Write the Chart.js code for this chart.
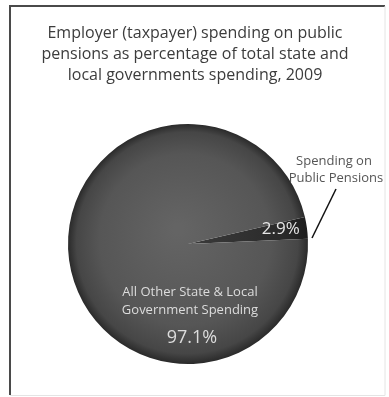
<!DOCTYPE html>
<html>
<head>
<meta charset="utf-8">
<script src="https://cdn.jsdelivr.net/npm/chart.js@4.4.0/dist/chart.umd.min.js"></script>
<style>
  html, body { margin: 0; padding: 0; background: #fff; }
  #wrap { width: 389px; height: 397px; }
</style>
</head>
<body>
<div id="wrap"><canvas id="pensionChart" width="389" height="397"></canvas></div>
<script>
// Spending shares, 2009
const categories = ["Spending on Public Pensions", "All Other State & Local Government Spending"];
const shares = [2.9, 97.1];
const shareLabels = ["2.9%", "97.1%"];
const titleLines = [
    "Employer (taxpayer) spending on public",
    "pensions as percentage of total state and",
    "local governments spending, 2009"
];

const canvas = document.getElementById("pensionChart");
const ctx = canvas.getContext("2d");

// Shaded fill for each slice, darker toward the rim
function sliceFill(context) {
    const chart = context.chart;
    const area = chart.chartArea;
    if (!area) return "#505050";
    const cx = (area.left + area.right) / 2;
    const cy = (area.top + area.bottom) / 2;
    const r = Math.min(area.right - area.left, area.bottom - area.top) / 2;
    const g = chart.ctx.createRadialGradient(cx - 10, cy - 15, 5, cx, cy, r);
    if (context.dataIndex === 0) {
        g.addColorStop(0, "#3c3c3c");
        g.addColorStop(0.8, "#2a2a2a");
        g.addColorStop(1, "#1e1e1e");
    } else {
        g.addColorStop(0, "#646464");
        g.addColorStop(0.7, "#565656");
        g.addColorStop(0.92, "#464646");
        g.addColorStop(1, "#2a2a2a");
    }
    return g;
}

// Title, slice labels, leader line and frame
const decorations = {
    id: "decorations",
    afterDraw(chart) {
        const c = chart.ctx;
        const arcs = chart.getDatasetMeta(0).data;
        const small = arcs[0].getProps(["x", "y", "startAngle", "endAngle", "outerRadius"], true);
        const mid = (small.startAngle + small.endAngle) / 2;

        c.save();
        // frame
        c.strokeStyle = "#4a4a4a";
        c.lineWidth = 2;
        c.beginPath();
        c.moveTo(10, 395);
        c.lineTo(10, 6);
        c.lineTo(385, 6);
        c.stroke();
        c.strokeStyle = "#e4e4e4";
        c.lineWidth = 1;
        c.beginPath();
        c.moveTo(385, 6);
        c.lineTo(385, 395.5);
        c.lineTo(10, 395.5);
        c.stroke();

        // title
        c.fillStyle = "#3c3c3c";
        c.font = "16px 'Open Sans'";
        c.textAlign = "center";
        c.textBaseline = "middle";
        titleLines.forEach((line, i) => c.fillText(line, 195, 33 + i * 21));

        // small slice value inside the wedge
        c.fillStyle = "#e6e6e6";
        c.font = "17px 'Open Sans'";
        c.fillText(shareLabels[0], small.x + Math.cos(mid) * small.outerRadius * 0.78,
                   small.y + Math.sin(mid) * small.outerRadius * 0.78 - 2);

        // large slice label and value
        c.font = "13px 'Open Sans'";
        c.fillStyle = "#dcdcdc";
        c.fillText("All Other State & Local", small.x + 2, small.y + 48);
        c.fillText("Government Spending", small.x + 2, small.y + 66);
        c.font = "18px 'Open Sans'";
        c.fillText(shareLabels[1], small.x + 4, small.y + 94);

        // outside label with leader line
        c.fillStyle = "#555";
        c.font = "13px 'Open Sans'";
        c.fillText("Spending on", 334, 161);
        c.fillText("Public Pensions", 336, 178);
        c.strokeStyle = "#111";
        c.lineWidth = 1.5;
        c.beginPath();
        c.moveTo(336, 189);
        c.lineTo(312, 238);
        c.stroke();
        c.restore();
    }
};

new Chart(ctx, {
    type: "pie",
    data: {
        labels: categories,
        datasets: [{
            data: shares,
            backgroundColor: sliceFill,
            borderWidth: 0
        }]
    },
    options: {
        responsive: false,
        animation: false,
        rotation: 77,
        layout: {
            padding: { top: 124, bottom: 33, left: 68, right: 81 }
        },
        plugins: {
            legend: { display: false },
            tooltip: { enabled: false }
        }
    },
    plugins: [decorations]
});
</script>
</body>
</html>
